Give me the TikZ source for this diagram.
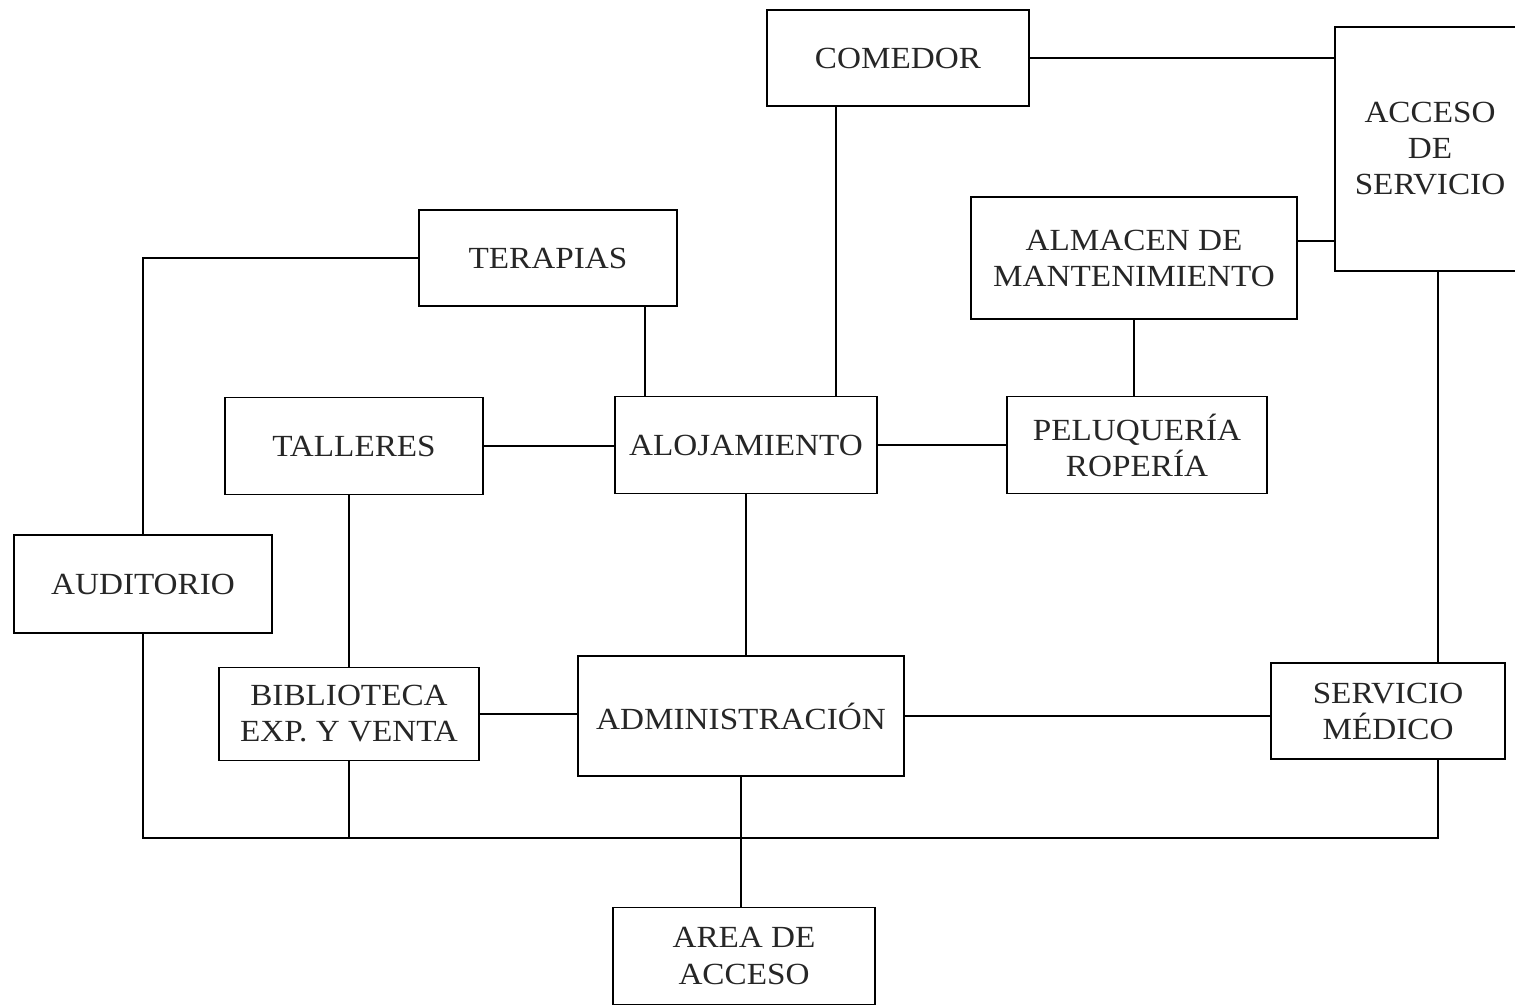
\documentclass[tikz,border=0pt]{standalone}
\usepackage{fontspec}
\setmainfont{Liberation Serif}[FakeStretch=1.08]
\usetikzlibrary{positioning}

\begin{document}
\begin{tikzpicture}[x=0.02cm, y=-0.02cm, line width=0.9pt,
  every node/.style = {rectangle, draw=black, line width=0.9pt,
    font = \fontsize{17.5}{20.5}\selectfont, text=black!85,
    align = center, inner sep=0pt},
  wh/.style 2 args = {minimum width=#1*0.02cm, minimum height=#2*0.02cm}]
  \useasboundingbox (0,0) rectangle (1515,1007);
  \node (com)  [wh={262}{96}]  at (898,58)   {COMEDOR};
  \node (acc)  [wh={190}{244}] at (1430,149) {ACCESO\\DE\\SERVICIO};
  \node (ter)  [wh={258}{96}]  at (548,258)  {TERAPIAS};
  \node (alm)  [wh={326}{122}] at (1134,258) {ALMACEN DE\\MANTENIMIENTO};
  \node (tal)  [wh={258}{97}]  at (354,446)  {TALLERES};
  \node (alo)  [wh={262}{97}]  at (746,445)  {ALOJAMIENTO};
  \node (pel)  [wh={260}{97}]  at (1137,445) {PELUQUERÍA\\ROPERÍA};
  \node (aud)  [wh={258}{98}]  at (143,584)  {AUDITORIO};
  \node (bib)  [wh={260}{93}]  at (349,714)  {BIBLIOTECA\\EXP. Y VENTA};
  \node (adm)  [wh={326}{120}] at (741,716)  {ADMINISTRACIÓN};
  \node (sm)   [wh={234}{96}]  at (1388,711) {SERVICIO\\MÉDICO};
  \node (area) [wh={262}{97}]  at (744,956)  {AREA DE\\ACCESO};

  \coordinate (xcom) at (836,0);
  \coordinate (xter) at (645,0);
  \coordinate (xacc) at (1438,0);
  \coordinate (yalm) at (0,241);
  \coordinate (bus)  at (0,838);

  % upper part
  \draw (com.east) -- (com.east -| acc.west)
    (xcom |- com.south) -- (xcom |- alo.north)
    (ter.west) -| (aud.north)
    (xter |- ter.south) -- (xter |- alo.north)
    (alm.east |- yalm) -- (acc.west |- yalm)
    (alm.south) -- (alm.south |- pel.north)
    (xacc |- acc.south) -- (xacc |- sm.north);
  % middle part
  \draw (tal.east) -- (tal.east -| alo.west)
    (alo.east) -- (pel.west)
    (bib.north |- tal.south) -- (bib.north)
    (alo.south) -- (alo.south |- adm.north)
    (bib.east) -- (bib.east -| adm.west)
    (adm.east) -- (sm.west |- adm.east);
  % lower bus
  \draw (aud.south) |- (xacc |- bus) -- (xacc |- sm.south)
    (bib.south) -- (bib.south |- bus)
    (adm.south) -- (adm.south |- area.north);
\end{tikzpicture}
\end{document}
